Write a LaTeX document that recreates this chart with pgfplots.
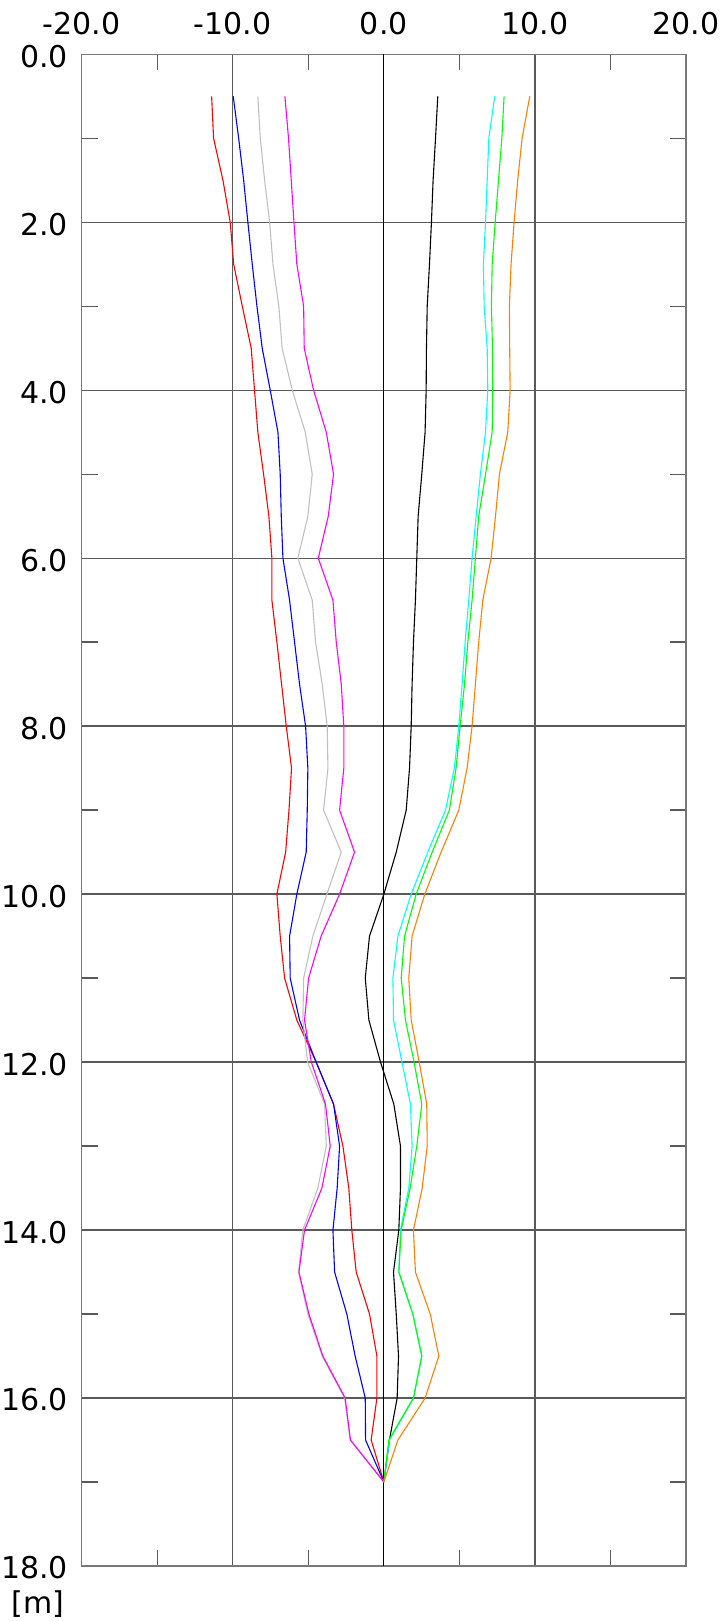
\documentclass[border=0pt]{standalone}
\usepackage{fontspec}
\setmainfont{DejaVu Sans}
\usepackage{pgfplots}
\pgfplotsset{compat=1.18}
\usepackage{pgfplotstable}
\definecolor{gridc}{RGB}{90,90,90}
\definecolor{framec}{RGB}{120,120,120}
\definecolor{orng}{RGB}{255,128,0}
\definecolor{silv}{RGB}{192,192,192}
\definecolor{cyn}{RGB}{0,255,255}
\definecolor{grn}{RGB}{0,255,0}
\definecolor{mgt}{RGB}{255,0,255}
\pgfplotstableread{
d red blue gray mag blk cyan green orange
0.5 -11.40 -9.97 -8.34 -6.55 3.57 7.34 7.96 9.66
1.0 -11.27 -9.61 -8.18 -6.31 3.42 6.95 7.81 9.15
1.5 -10.65 -9.28 -7.89 -6.13 3.26 6.84 7.59 8.86
2.0 -10.17 -9.00 -7.56 -5.95 3.15 6.73 7.37 8.62
2.5 -9.94 -8.71 -7.34 -5.76 3.02 6.59 7.17 8.42
3.0 -9.37 -8.40 -6.95 -5.31 2.87 6.64 7.12 8.31
3.5 -8.78 -8.05 -6.73 -5.27 2.82 6.84 7.19 8.33
4.0 -8.56 -7.52 -6.06 -4.65 2.80 6.88 7.21 8.36
4.5 -8.34 -7.01 -5.20 -3.81 2.73 6.73 7.17 8.20
5.0 -7.96 -6.86 -4.74 -3.33 2.51 6.39 6.73 7.65
5.5 -7.61 -6.79 -5.03 -3.68 2.27 6.11 6.28 7.39
6.0 -7.41 -6.68 -5.69 -4.34 2.18 5.84 6.06 7.10
6.5 -7.41 -6.24 -4.74 -3.37 2.09 5.62 5.84 6.55
7.0 -7.08 -5.91 -4.52 -3.15 1.96 5.38 5.56 6.28
7.5 -6.77 -5.58 -4.08 -2.82 1.87 5.18 5.34 6.06
8.0 -6.46 -5.18 -3.75 -2.65 1.81 4.96 5.05 5.84
8.5 -6.11 -5.03 -3.70 -2.65 1.70 4.67 4.78 5.51
9.0 -6.28 -5.07 -3.99 -2.93 1.48 4.08 4.34 4.96
9.5 -6.50 -5.14 -2.82 -1.94 0.82 2.91 3.20 3.79
10.0 -7.08 -5.76 -3.77 -2.93 0.00 1.81 2.14 2.71
10.5 -6.86 -6.24 -4.70 -4.15 -0.95 0.93 1.37 1.87
11.0 -6.57 -6.20 -5.31 -4.98 -1.23 0.60 1.15 1.65
11.5 -5.76 -5.58 -5.36 -5.25 -0.99 0.64 1.43 1.81
12.0 -4.48 -4.48 -5.05 -4.80 -0.22 1.20 2.00 2.34
12.5 -3.33 -3.33 -3.92 -3.86 0.66 1.76 2.51 2.84
13.0 -2.71 -2.93 -3.81 -3.55 1.10 1.87 2.18 2.87
13.5 -2.32 -3.09 -4.37 -4.10 1.10 1.65 1.74 2.54
14.0 -2.12 -3.37 -5.36 -5.25 0.99 1.10 1.15 1.96
14.5 -1.83 -3.26 -5.65 -5.62 0.64 0.99 0.99 2.09
15.0 -0.95 -2.45 -5.03 -4.96 0.82 1.92 1.92 3.07
15.5 -0.46 -1.90 -4.08 -4.04 0.97 2.51 2.51 3.64
16.0 -0.46 -1.23 -2.60 -2.56 0.88 1.96 1.96 2.73
16.5 -0.84 -1.21 -2.23 -2.21 0.37 0.37 0.33 0.93
17.0 0 0 0 0 0 0 0 0
}\data
\begin{document}
\begin{tikzpicture}
\path[use as bounding box] (-40.85pt,-27.5pt) rectangle (319.15pt,783pt);
\begin{axis}[
  name=ax, at={(0pt,0pt)}, anchor=south west,
  scale only axis, width=302.15pt, height=755.85pt,
  xmin=-20, xmax=20, ymin=0, ymax=18, y dir=reverse,
  xtick={-20,-10,10,20},
  extra x ticks={0},
  extra x tick style={major grid style={black, line width=0.5pt}},
  minor xtick={-15,-5,5,15},
  ytick={0,2,...,18}, minor ytick={1,3,...,17},
  xticklabel pos=upper, xtick pos=both, ytick pos=both,
  grid=major,
  major grid style={gridc, line width=0.7pt},
  major tick length=0pt, minor tick length=8pt,
  tick align=inside,
  tick style={gridc, line width=0.7pt},
  axis line style={framec, line width=0.6pt},
  tick label style={font=\fontsize{15pt}{18pt}\selectfont},
  yticklabel style={yshift=-1pt},
  xticklabel shift=6.3pt, yticklabel shift=3.3pt,
  /pgf/number format/.cd, fixed, fixed zerofill, precision=1, assume math mode=true,
  /pgfplots/.cd,
  every axis plot/.append style={line width=0.55pt, mark=none},
]
\addplot[red] table[x=red, y=d] {\data};
\addplot[blue] table[x=blue, y=d] {\data};
\addplot[silv] table[x=gray, y=d] {\data};
\addplot[mgt] table[x=mag, y=d] {\data};
\addplot[black] table[x=blk, y=d] {\data};
\addplot[cyn] table[x=cyan, y=d] {\data};
\addplot[grn] table[x=green, y=d] {\data};
\addplot[orng] table[x=orange, y=d] {\data};
\end{axis}
\node[anchor=east, font=\fontsize{15pt}{18pt}\selectfont, xshift=-8.5pt, yshift=-19pt, inner sep=0pt] at (ax.south west) {[m]};
\end{tikzpicture}
\end{document}
